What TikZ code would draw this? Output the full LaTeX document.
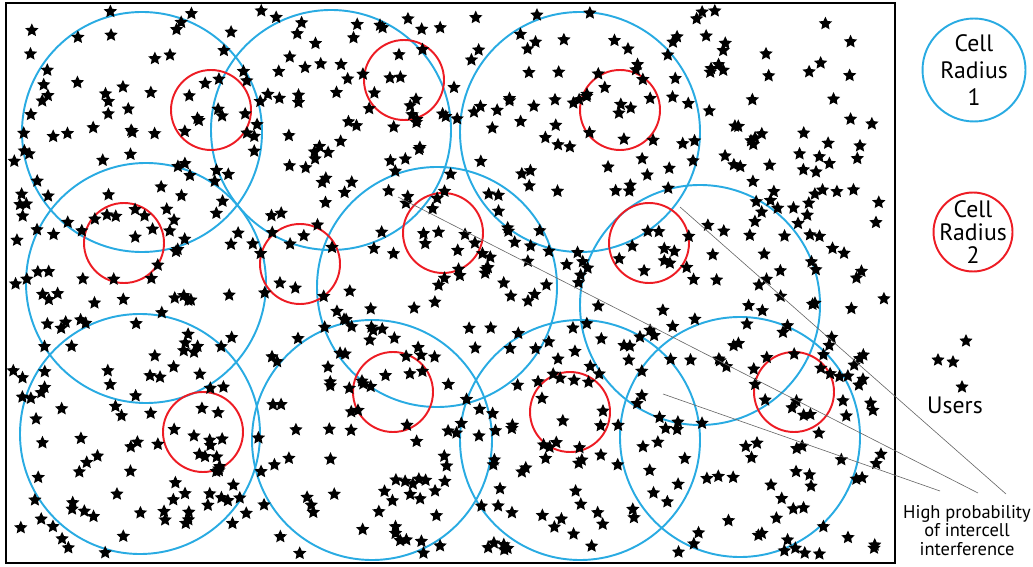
\documentclass[tikz,border=0pt]{standalone}
\usepackage{fontspec}
\setmainfont{PT Sans}
\usepackage{tikz}
\usetikzlibrary{shapes.geometric}

\definecolor{cellblue}{RGB}{41,171,226}
\definecolor{cellred}{RGB}{237,28,36}

\begin{document}
\begin{tikzpicture}[
			x=0.02cm, y=-0.02cm,
			big/.style={draw=cellblue, line width=1.1pt},
			small/.style={draw=cellred, line width=1.1pt},
			user/.style={star, star points=5, star point ratio=2.1, fill=black, inner sep=0pt, minimum size=0.28cm},
			pointer/.style={draw=black!60, line width=0.35pt},
			legend/.style={align=center, font=\fontsize{13.5}{16}\selectfont}
			]
			\useasboundingbox (0,0) rectangle (1033,567);
			
			% ---------------- CELLS ----------------
			\foreach \cx/\cy in {142/132, 331/130, 580/132, 146/283, 437/287,
				700/305, 140/434, 372/440, 580/440, 740/437}
			\draw[big] (\cx,\cy) circle[radius=120];
			
			\foreach \cx/\cy in {211/110, 404/80, 620/110, 124/243, 300/264,
				443/233, 649/243, 203/432, 393/392, 570/412, 794/392}
			\draw[small] (\cx,\cy) circle[radius=40];
			
			% ---------------- USERS ----------------
			\pgfmathsetseed{4217}
			\foreach \i in {1,...,720}{
				\pgfmathsetmacro{\ux}{13+872*rnd}
				\pgfmathsetmacro{\uy}{10+545*rnd}
				\node[user] (u\i) at (\ux,\uy) {};
			}
			
			\draw[line width=1.4pt] (6,3) rectangle (895,563);
			
			% ---------------- LEGEND ----------------
			\node[circle, draw=cellblue, line width=1.1pt, minimum size=2.06cm] (r1) at (974,70) {};
			\node[legend, font=\fontsize{13.5}{15.5}\selectfont] (r1txt) at (r1) {Cell\\Radius\\1};
			\node[circle, draw=cellred, line width=1.1pt, minimum size=1.58cm] (r2) at (973,232) {};
			\node[legend, font=\fontsize{13.5}{13}\selectfont] (r2txt) at (r2) {Cell\\Radius\\2};
			
			\node[user] (l1) at (966,341) {};
			\node[user] (l2) at (938,360) {};
			\node[user] (l3) at (953,362) {};
			\node[user] (l4) at (962,387) {};
			\node[legend] (users) at (955,405) {Users};
			
			% ---------------- INTERFERENCE NOTE ----------------
			\node[align=center, font=\fontsize{10.5}{10.5}\selectfont, anchor=north] (note) at (967,499) {High probability\\of intercell\\interference};
			
			\coordinate (p1) at (680,207);
			\coordinate (p2) at (398,197);
			\coordinate (p3) at (663,394);
			\coordinate (e1) at (1006,494);
			\coordinate (e2) at (978,493);
			\coordinate (e3) at (940,491);
			\draw[pointer] (p1) -- (e1);
			\draw[pointer] (p2) -- (e2);
			\draw[pointer] (p3) -- (e3);
			
		\end{tikzpicture}
\end{document}
